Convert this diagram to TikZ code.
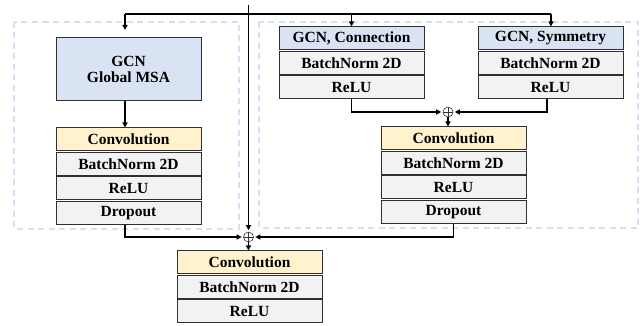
\documentclass[tikz,border=0pt]{standalone}
\usepackage{fontspec}
\setmainfont{Liberation Serif}
\usetikzlibrary{arrows.meta}
\definecolor{gcnblue}{HTML}{DAE3F3}
\definecolor{convyellow}{HTML}{FFF2CC}
\definecolor{boxgray}{HTML}{F2F2F2}
\definecolor{dashblue}{HTML}{D6E0F2}
\definecolor{edge}{HTML}{303030}
\tikzset{
  blk/.style={draw=edge, line width=1pt, minimum width=145pt, minimum height=23pt,
    inner sep=0pt, font=\fontsize{15.5}{17}\selectfont\bfseries, fill=boxgray},
  gcn/.style={blk, fill=gcnblue},
  conv/.style={blk, fill=convyellow},
  group/.style={draw=dashblue, line width=1.3pt, dash pattern=on 6pt off 4.5pt},
  wire/.style={line width=1.3pt, black},
  arr/.style={wire, -{Triangle[length=5pt,width=5pt]}},
  parr/.style={arr, shorten >=1.5pt},
  plus/.style={circle, draw=black!80, line width=0.6pt, minimum size=10pt, inner sep=0pt,
    path picture={\draw[line width=0.6pt, black!80] (path picture bounding box.north) -- (path picture bounding box.south)
      (path picture bounding box.west) -- (path picture bounding box.east);}}
}
\begin{document}
\begin{tikzpicture}[x=1pt,y=-1pt]
\useasboundingbox (0,0) rectangle (641,326);
% dashed groups
\draw[group] (14,22) rectangle (239,229);
\draw[group] (259,22) rectangle (638,228);
% left branch
\node[gcn, minimum height=63pt, align=center] (gmsa) at (128.5,69.5) {GCN\\[-1pt]Global MSA};
\node[conv] (convL) at (128.5,139.5) {Convolution};
\node[blk] (bnL) at (128.5,164) {BatchNorm 2D};
\node[blk] (reluL) at (128.5,188.5) {ReLU};
\node[blk] (dropL) at (128.5,213.5) {Dropout};
% right branch
\node[gcn] (conn) at (351.5,38.5) {GCN, Connection};
\node[blk] (bnC) at (351.5,63) {BatchNorm 2D};
\node[blk] (reluC) at (351.5,87.5) {ReLU};
\node[gcn] (sym) at (550.5,38.5) {GCN, Symmetry};
\node[blk] (bnS) at (550.5,63) {BatchNorm 2D};
\node[blk] (reluS) at (550.5,87.5) {ReLU};
\node[plus] (plusR) at (448,112) {};
\node[conv] (convR) at (453.5,138.5) {Convolution};
\node[blk] (bnR) at (453.5,163) {BatchNorm 2D};
\node[blk] (reluR) at (453.5,187.5) {ReLU};
\node[blk] (dropR) at (453.5,212) {Dropout};
% bottom
\node[plus] (plusB) at (248.5,237) {};
\node[conv] (convB) at (249.5,262.5) {Convolution};
\node[blk] (bnB) at (249.5,287) {BatchNorm 2D};
\node[blk] (reluB) at (249.5,311.5) {ReLU};
% top wiring
\coordinate (top) at (248.5,5);
\coordinate (jl) at (125,14);
\coordinate (jr) at (551,14);
\coordinate (gin) at (125,30);
\draw[wire] (jl) -- (jr);
\draw[arr] (jl) -- (gin);
\draw[arr] (conn.north |- jl) -- (conn.north);
\draw[arr] (jr) -- (sym.north -| jr);
\draw[parr] (top) -- (plusB.north);
% inner arrows
\draw[arr] (gmsa.south -| gin) -- (convL.north -| gin);
\draw[parr] (reluC.south) |- (plusR.west);
\draw[parr] ([xshift=-3.5pt]reluS.south) |- (plusR.east);
\draw[arr] (plusR.south) -- (plusR.south |- convR.north);
\draw[parr] ([xshift=-3.5pt]dropL.south) |- (plusB.west);
\draw[parr] (dropR.south) |- (plusB.east);
\draw[arr] (plusB.south) -- (plusB.south |- convB.north);
\end{tikzpicture}
\end{document}
